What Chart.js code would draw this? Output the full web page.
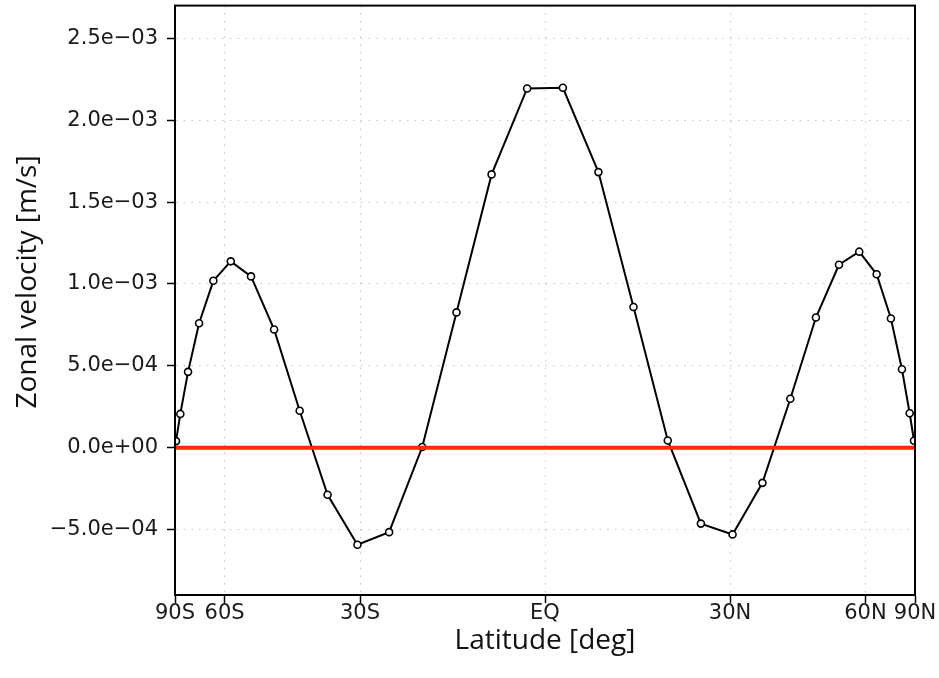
<!DOCTYPE html>
<html>
<head>
<meta charset="utf-8">
<script src="https://cdn.jsdelivr.net/npm/chart.js@4"></script>
<style>
  html, body { margin: 0; padding: 0; background: #fff; }
  #wrap { width: 939px; height: 678px; }
</style>
</head>
<body>
<div id="wrap"><canvas id="zonal"></canvas></div>
<script>
// Gaussian latitudes (deg) and zonal-mean zonal velocity (m/s)
const lats = [-85.76, -80.27, -74.74, -69.21, -63.68, -58.14, -52.61, -47.07,
  -41.53, -35.99, -30.46, -24.92, -19.38, -13.84, -8.30, -2.77,
  2.77, 8.30, 13.84, 19.38, 24.92, 30.46, 35.99, 41.53,
  47.07, 52.61, 58.14, 63.68, 69.21, 74.74, 80.27, 85.76];
const uVel = [0.040e-3, 0.206e-3, 0.463e-3, 0.760e-3, 1.019e-3, 1.138e-3, 1.046e-3, 0.722e-3,
  0.225e-3, -0.288e-3, -0.593e-3, -0.516e-3, 0.004e-3, 0.826e-3, 1.669e-3, 2.194e-3,
  2.198e-3, 1.683e-3, 0.859e-3, 0.044e-3, -0.464e-3, -0.530e-3, -0.215e-3, 0.299e-3,
  0.795e-3, 1.117e-3, 1.197e-3, 1.059e-3, 0.789e-3, 0.479e-3, 0.210e-3, 0.042e-3];

const xTicks = [-90, -60, -30, 0, 30, 60, 90];
const xTickLabels = ['90S', '60S', '30S', 'EQ', '30N', '60N', '90N'];
const yTicks = [-5e-4, 0, 5e-4, 1e-3, 1.5e-3, 2e-3, 2.5e-3];
const yTickLabels = ['\u22125.0e\u221204', '0.0e+00', '5.0e\u221204', '1.0e\u221203',
  '1.5e\u221203', '2.0e\u221203', '2.5e\u221203'];

const xTitle = 'Latitude [deg]';
const yTitle = 'Zonal velocity [m/s]';

// latitude axis spaced by sin(lat)
class SineScale extends Chart.LinearScale {
  static id = 'sine';
  getPixelForValue(v) {
    if (v === null || v === undefined) return NaN;
    const s = Math.sin(v * Math.PI / 180);
    return this.getPixelForDecimal((s + 1) / 2);
  }
  getValueForPixel(p) {
    const d = this.getDecimalForPixel(p) * 2 - 1;
    return Math.asin(Math.max(-1, Math.min(1, d))) * 180 / Math.PI;
  }
}
Chart.register(SineScale);

// box around the plot plus the two axis titles
const frame = {
  id: 'frame',
  afterDraw(chart) {
    const { ctx, chartArea: a } = chart;
    ctx.save();
    ctx.strokeStyle = '#000';
    ctx.lineWidth = 2;
    ctx.strokeRect(a.left, a.top, a.right - a.left, a.bottom - a.top);

    ctx.fillStyle = '#111';
    ctx.font = '28px "Open Sans"';
    ctx.textAlign = 'center';
    ctx.textBaseline = 'middle';
    ctx.fillText(xTitle, (a.left + a.right) / 2, 641);
    ctx.translate(28, 282);
    ctx.rotate(-Math.PI / 2);
    ctx.fillText(yTitle, 0, 0);
    ctx.restore();
  }
};

const tickFont = { family: 'DejaVu Sans', size: 21 };
const gridOpts = {
  color: '#c4c4c4',
  lineWidth: 1,
  tickColor: '#000',
  tickWidth: 1.5,
  tickBorderDash: [],
  tickLength: 8
};
const borderOpts = { display: true, color: '#000', width: 2, dash: [1.5, 6.2] };

new Chart(document.getElementById('zonal'), {
  type: 'line',
  data: {
    datasets: [
      {
        data: [{ x: -90, y: 0 }, { x: 90, y: 0 }],
        borderColor: '#ff2a00',
        borderWidth: 4,
        pointRadius: 0
      },
      {
        data: lats.map((lat, i) => ({ x: lat, y: uVel[i] })),
        borderColor: '#000',
        borderWidth: 2,
        pointRadius: 3.5,
        pointBorderWidth: 1.6,
        pointBackgroundColor: '#fff',
        pointBorderColor: '#000',
        tension: 0
      }
    ]
  },
  options: {
    responsive: true,
    maintainAspectRatio: false,
    animation: false,
    layout: { padding: { top: 4, right: 24, left: 0, bottom: 0 } },
    plugins: { legend: { display: false }, tooltip: { enabled: false } },
    scales: {
      x: {
        type: 'sine',
        min: -90,
        max: 90,
        afterBuildTicks: s => { s.ticks = xTicks.map(v => ({ value: v })); },
        afterFit: s => { s.height = 83; s.paddingLeft = 0; s.paddingRight = 0; },
        ticks: {
          autoSkip: false,
          maxRotation: 0,
          padding: -2,
          color: '#1a1a1a',
          font: tickFont,
          callback: (v, i) => xTickLabels[i]
        },
        grid: gridOpts,
        border: borderOpts
      },
      y: {
        min: -0.0009,
        max: 0.0027,
        afterBuildTicks: s => { s.ticks = yTicks.map(v => ({ value: v })); },
        afterFit: s => { s.width = 175; s.paddingTop = 0; s.paddingBottom = 0; },
        ticks: {
          padding: 9,
          color: '#1a1a1a',
          font: tickFont,
          callback: (v, i) => yTickLabels[i]
        },
        grid: gridOpts,
        border: borderOpts
      }
    }
  },
  plugins: [frame]
});
</script>
</body>
</html>
